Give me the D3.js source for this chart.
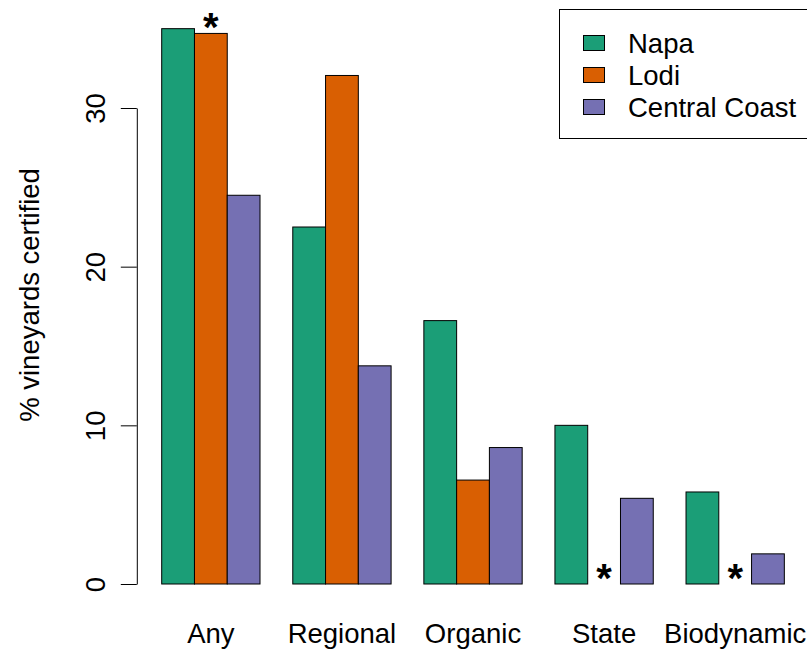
<!DOCTYPE html>
<html>
<head>
<meta charset="utf-8">
<script src="https://cdn.jsdelivr.net/npm/d3@7"></script>
<style>
  html, body { margin: 0; padding: 0; background: #fff; }
  svg { display: block; font-family: "Liberation Sans", Arial, Helvetica, sans-serif; }
</style>
</head>
<body>
<svg id="chart" width="807" height="650"></svg>
<script>
// Certification types (groups along the x axis)
const categories = ["Any", "Regional", "Organic", "State", "Biodynamic"];
// Regions (bars within each group)
const regions = ["Napa", "Lodi", "Central Coast"];
// % of vineyards certified, one array per region, in category order
const napa = [35.0, 22.5, 16.6, 10.0, 5.8];
const lodi = [34.7, 32.05, 6.55, 0, 0];
const centralCoast = [24.5, 13.75, 8.6, 5.4, 1.9];
// Bars flagged with an asterisk: [region, category]
const starred = [["Lodi", "Any"], ["Lodi", "State"], ["Lodi", "Biodynamic"]];
const yTicks = [0, 10, 20, 30];
const colors = ["#1B9E77", "#D95F02", "#7570B3"];

const seriesValues = { "Napa": napa, "Lodi": lodi, "Central Coast": centralCoast };

const svg = d3.select("#chart");
const fontSize = 27.5;

// Layout: each bar is one unit wide, groups separated by one unit of space
const unit = 32.77;
const firstBar = 161.7;
const baseY = 584;

const x = d3.scaleBand()
  .domain(categories)
  .range([firstBar - unit, firstBar + 20 * unit])
  .paddingInner(0.25)
  .paddingOuter(0.25);

const xInner = d3.scaleBand()
  .domain(regions)
  .range([0, x.bandwidth()])
  .padding(0);

const y = d3.scaleLinear()
  .domain([0, 30])
  .range([baseY, 108]);

const color = d3.scaleOrdinal().domain(regions).range(colors);

// Bars
const groups = svg.append("g").selectAll("g")
  .data(categories)
  .join("g")
  .attr("transform", d => `translate(${x(d)},0)`);

groups.selectAll("rect")
  .data((c, ci) => regions.map(r => ({ region: r, category: c, value: seriesValues[r][ci] })))
  .join("rect")
  .attr("x", d => xInner(d.region))
  .attr("y", d => y(d.value))
  .attr("width", xInner.bandwidth())
  .attr("height", d => y(0) - y(d.value))
  .attr("fill", d => color(d.region))
  .attr("stroke", "#000")
  .attr("stroke-width", 1);

// Asterisks above flagged bars
svg.append("g").selectAll("text")
  .data(starred)
  .join("text")
  .attr("x", d => x(d[1]) + xInner(d[0]) + xInner.bandwidth() / 2)
  .attr("y", d => y(seriesValues[d[0]][categories.indexOf(d[1])]) + 8)
  .attr("text-anchor", "middle")
  .attr("font-size", 40)
  .attr("font-weight", "bold")
  .attr("fill", "#000")
  .text("*");

// Y axis
const yAxis = d3.axisLeft(y)
  .tickValues(yTicks)
  .tickSize(16)
  .tickSizeOuter(0)
  .tickPadding(0)
  .tickFormat(d3.format("d"));

const yg = svg.append("g")
  .attr("transform", "translate(136.8,0)")
  .call(yAxis);

yg.select(".domain").attr("stroke", "#000").attr("stroke-width", 1);
yg.selectAll(".tick line").attr("stroke", "#000").attr("stroke-width", 1);
yg.selectAll(".tick text")
  .attr("font-family", "Liberation Sans, Arial, sans-serif")
  .attr("font-size", fontSize)
  .attr("fill", "#000")
  .attr("text-anchor", "middle")
  .attr("x", null)
  .attr("dy", null)
  .attr("transform", "translate(-31.5,0) rotate(-90)");

// Y axis title
svg.append("text")
  .attr("transform", "translate(39,295) rotate(-90)")
  .attr("text-anchor", "middle")
  .attr("font-size", fontSize)
  .attr("fill", "#000")
  .text("% vineyards certified");

// Category labels
svg.append("g").selectAll("text")
  .data(categories)
  .join("text")
  .attr("x", d => x(d) + x.bandwidth() / 2)
  .attr("y", 643)
  .attr("text-anchor", "middle")
  .attr("font-size", fontSize)
  .attr("fill", "#000")
  .text(d => d);

// Legend
const legend = svg.append("g");
legend.append("rect")
  .attr("x", 559.5)
  .attr("y", 9.5)
  .attr("width", 300)
  .attr("height", 129)
  .attr("fill", "#fff")
  .attr("stroke", "#000")
  .attr("stroke-width", 1);

const rowY = d3.scalePoint().domain(regions).range([43, 107]);

const rows = legend.selectAll("g.row")
  .data(regions)
  .join("g")
  .attr("class", "row")
  .attr("transform", d => `translate(0,${rowY(d)})`);

rows.append("rect")
  .attr("x", 583.5)
  .attr("y", -7.5)
  .attr("width", 21)
  .attr("height", 15)
  .attr("fill", d => color(d))
  .attr("stroke", "#000")
  .attr("stroke-width", 1);

rows.append("text")
  .attr("x", 628)
  .attr("y", 10)
  .attr("font-size", fontSize)
  .attr("fill", "#000")
  .text(d => d);
</script>
</body>
</html>
